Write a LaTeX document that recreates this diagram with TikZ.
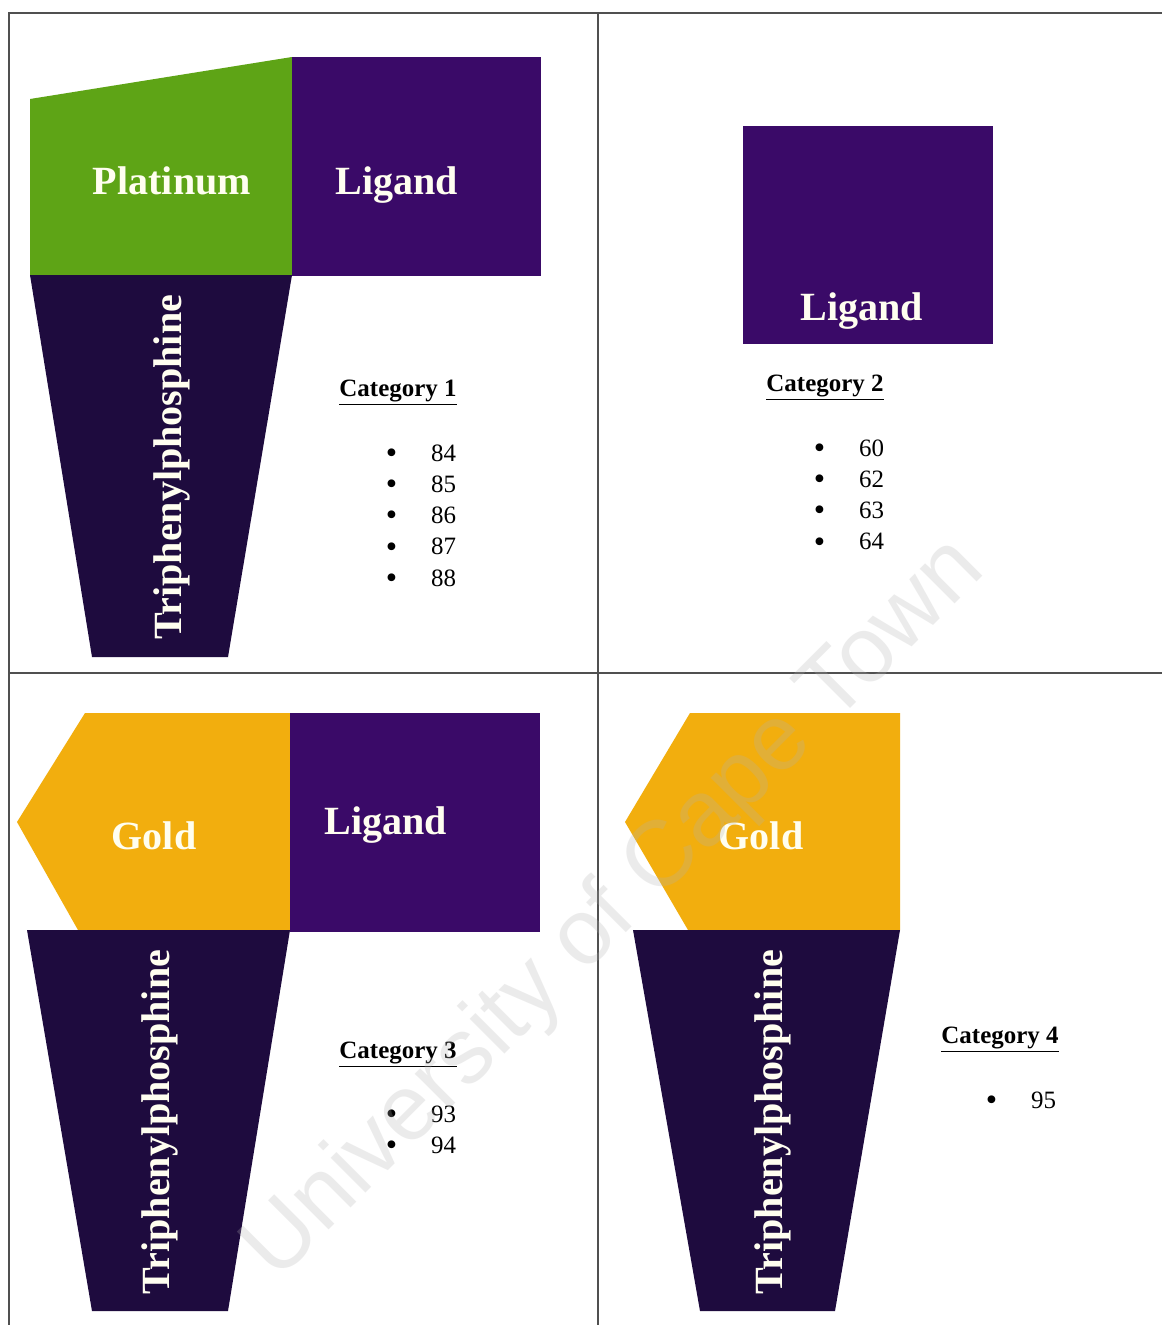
\documentclass[tikz,border=0pt]{standalone}
\usepackage{fontspec}
\setmainfont{Liberation Serif}
\newfontfamily\wmfont{Liberation Sans}
\usetikzlibrary{positioning}

\definecolor{ptgreen}{HTML}{5EA416}
\definecolor{ligpurple}{HTML}{3A0A68}
\definecolor{tppdark}{HTML}{1E0B3E}
\definecolor{augold}{HTML}{F2AE0E}
\definecolor{framegray}{HTML}{505050}

\tikzset{
  lbl/.style={text=white!94!yellow, font=\fontsize{22.8}{26}\selectfont\bfseries, inner sep=0pt},
  cat/.style={font=\fontsize{14.2}{17}\selectfont\bfseries, inner sep=0pt},
  itm/.style={font=\fontsize{14.2}{17}\selectfont, inner sep=0pt},
  frame/.style={framegray, line width=1.1pt},
  wm/.style={font=\wmfont\fontsize{53}{60}\selectfont, text=white!70!black, text opacity=0.25, rotate=45, inner sep=0pt}
}
\newcommand{\itm}[1]{\raisebox{-1.3pt}{\scalebox{1.3}{\textbullet}}\hspace{0.68cm}#1}

\begin{document}
\begin{tikzpicture}[x=0.02cm, y=-0.02cm, node distance=0.625cm]
  \useasboundingbox[fill=white] (0,0) rectangle (1162,1325);

  % category 1
  \fill[ptgreen] (30,99) -- (292,57) -- (292,275) -- (30,275) -- cycle;
  \fill[ligpurple] (292,57) rectangle (541,276);
  \fill[tppdark] (30,275) -- (292,275) -- (228,657) -- (92,657) -- cycle;
  \node[lbl] (pt) at (172,181) {Platinum};
  \node[lbl] (lig1) at (397,185) {Ligand};
  \node[lbl, rotate=90] (tpp1) at (172,467) {Triphenylphosphine};
  \node[cat] (cat1) at (398,393) {\underline{Category 1}};
  \node[itm] (c84) at (421,454) {\itm{84}};
  \node[itm, below of=c84] (c85) {\itm{85}};
  \node[itm, below of=c85] (c86) {\itm{86}};
  \node[itm, below of=c86] (c87) {\itm{87}};
  \node[itm, below of=c87] (c88) {\itm{88}};

  % category 2
  \fill[ligpurple] (743,126) rectangle (993,344);
  \node[lbl] (lig2) at (862,311) {Ligand};
  \node[cat] (cat2) at (825,388) {\underline{Category 2}};
  \node[itm] (c60) at (849,449) {\itm{60}};
  \node[itm, below of=c60] (c62) {\itm{62}};
  \node[itm, below of=c62] (c63) {\itm{63}};
  \node[itm, below of=c63] (c64) {\itm{64}};

  % category 3
  \fill[augold] (17,822) -- (85,713) -- (290,713) -- (290,930) -- (78,930) -- cycle;
  \fill[ligpurple] (290,713) rectangle (540,932);
  \fill[tppdark] (27,930) -- (290,930) -- (228,1311) -- (92,1311) -- cycle;
  \node[lbl] (au3) at (154,836) {Gold};
  \node[lbl] (lig3) at (386,825) {Ligand};
  \node[lbl, rotate=90] (tpp3) at (160,1122) {Triphenylphosphine};
  \node[cat] (cat3) at (398,1055) {\underline{Category 3}};
  \node[itm] (c93) at (421,1115) {\itm{93}};
  \node[itm, below of=c93] (c94) {\itm{94}};

  % category 4
  \fill[augold] (625,822) -- (690,713) -- (900,713) -- (900,930) -- (688,930) -- cycle;
  \fill[tppdark] (633,930) -- (900,930) -- (835,1311) -- (700,1311) -- cycle;
  \node[lbl] (au4) at (761,836) {Gold};
  \node[lbl, rotate=90] (tpp4) at (773,1122) {Triphenylphosphine};
  \node[cat] (cat4) at (1000,1040) {\underline{Category 4}};
  \node[itm] (c95) at (1021,1101) {\itm{95}};

  % panel lines
  \draw[frame] (9,1325) -- (9,13) -- (1162,13);
  \draw[frame] (598,13) -- (598,1325);
  \draw[frame] (9,673) -- (1162,673);

  \node[wm] (uct) at (615,910) {University of Cape Town};
\end{tikzpicture}
\end{document}
